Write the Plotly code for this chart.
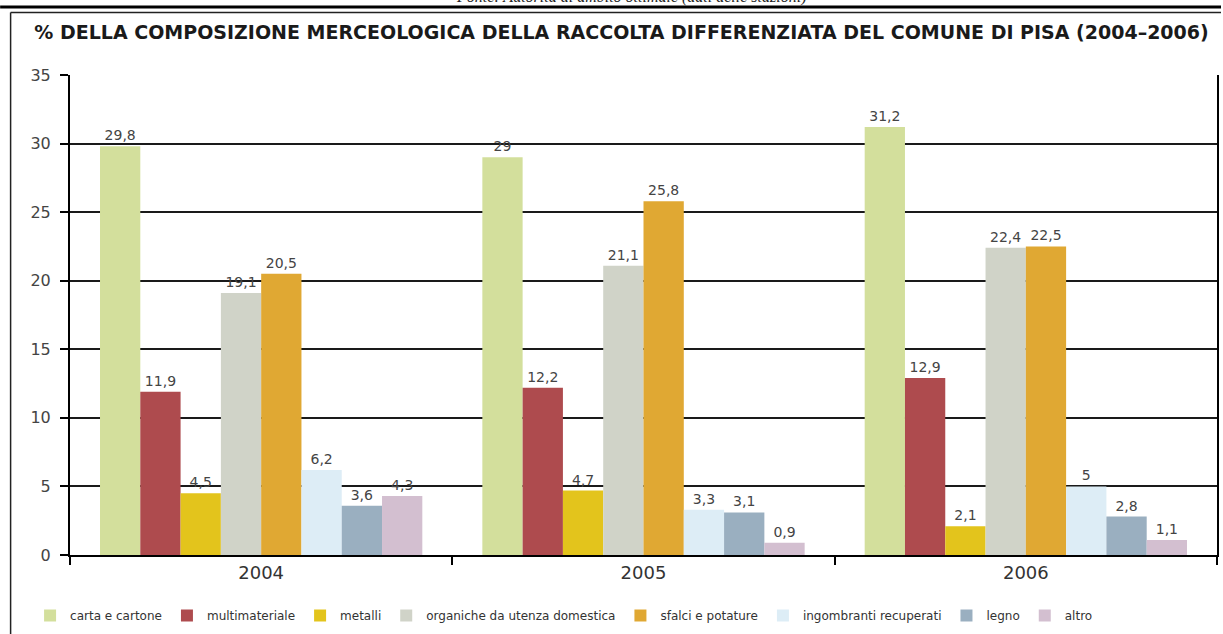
import plotly.graph_objects as go

# Years (categories on the x axis)
anni = ["2004", "2005", "2006"]

# Percentage share of each waste fraction, per year
voci = [
    "carta e cartone",
    "multimateriale",
    "metalli",
    "organiche da utenza domestica",
    "sfalci e potature",
    "ingombranti recuperati",
    "legno",
    "altro",
]
carta_cartone = [29.8, 29, 31.2]
multimateriale = [11.9, 12.2, 12.9]
metalli = [4.5, 4.7, 2.1]
organiche = [19.1, 21.1, 22.4]
sfalci = [20.5, 25.8, 22.5]
ingombranti = [6.2, 3.3, 5]
legno = [3.6, 3.1, 2.8]
altro = [4.3, 0.9, 1.1]

valori = [carta_cartone, multimateriale, metalli, organiche,
          sfalci, ingombranti, legno, altro]

colori = ["#D3DF9C", "#AE4B4E", "#E3C41C", "#D0D3C8",
          "#E0A833", "#DDEDF6", "#9AAFC0", "#D3BFD0"]

y_ticks = [0, 5, 10, 15, 20, 25, 30, 35]


def etichetta(v):
    return f"{v:g}".replace(".", ",")


fig = go.Figure()
for nome, serie, col in zip(voci, valori, colori):
    fig.add_trace(go.Bar(
        name=nome,
        x=anni,
        y=serie,
        marker=dict(color=col, line=dict(width=0)),
        text=[etichetta(v) for v in serie],
        textposition="outside",
        textfont=dict(family="DejaVu Sans", size=14, color="#444444"),
        cliponaxis=False,
    ))

# Plot area in pixels: x 70..1219, y 75..555 (page 1223x634)
L, R, T, B = 70, 4, 75, 79
W = 1223 - L - R
H = 634 - T - B


def px_x(p):
    return (p - L) / W


def px_y(p):
    return (634 - B - p) / H


shapes = [
    # heavy rule across the top of the page
    dict(type="line", xref="paper", yref="paper",
         x0=px_x(0), x1=px_x(1223), y0=px_y(7), y1=px_y(7),
         line=dict(color="#000000", width=3)),
    # box around the chart: top and left edges
    dict(type="line", xref="paper", yref="paper",
         x0=px_x(10.5), x1=px_x(1223), y0=px_y(12.5), y1=px_y(12.5),
         line=dict(color="#222222", width=1.5)),
    dict(type="line", xref="paper", yref="paper",
         x0=px_x(10.5), x1=px_x(10.5), y0=px_y(12.5), y1=px_y(640),
         line=dict(color="#222222", width=1.5)),
]

annotations = [
    dict(text="<i>Fonte: Autorità di ambito ottimale (dati delle stazioni)</i>",
         xref="paper", yref="paper", x=px_x(632), y=px_y(-3),
         xanchor="center", yanchor="middle", showarrow=False,
         font=dict(family="Liberation Serif", size=16, color="#222222")),
]

fig.update_layout(
    width=1223,
    height=634,
    margin=dict(l=L, r=R, t=T, b=B, pad=0),
    paper_bgcolor="white",
    plot_bgcolor="white",
    separators=",.",
    barmode="group",
    bargap=0.157,
    bargroupgap=0,
    title=dict(
        text="<b>% DELLA COMPOSIZIONE MERCEOLOGICA DELLA RACCOLTA DIFFERENZIATA DEL COMUNE DI PISA (2004–2006)</b>",
        x=(28 + 1215) / 2 / 1223, xref="container", xanchor="center",
        y=1 - 32 / 634, yref="container", yanchor="middle",
        font=dict(family="DejaVu Sans", size=19, color="#1a1a1a"),
    ),
    showlegend=True,
    legend=dict(
        orientation="h",
        x=px_x(30), xanchor="left",
        y=px_y(601), yanchor="top",
        font=dict(family="DejaVu Sans", size=12, color="#333333"),
        bgcolor="rgba(0,0,0,0)",
        traceorder="normal",
    ),
    shapes=shapes,
    annotations=annotations,
)

fig.update_yaxes(
    range=[0, 35],
    tickvals=y_ticks,
    ticktext=[str(t) for t in y_ticks],
    showgrid=True,
    gridcolor="#1a1a1a",
    gridwidth=1.5,
    zeroline=False,
    showline=True,
    linecolor="#000000",
    linewidth=2,
    mirror=True,
    ticks="outside",
    ticklen=8,
    tickwidth=2,
    tickcolor="#000000",
    ticklabelstandoff=6,
    tickfont=dict(family="DejaVu Sans", size=16, color="#444444"),
)

fig.update_xaxes(
    showline=True,
    linecolor="#000000",
    linewidth=2,
    showgrid=False,
    ticks="outside",
    tickson="boundaries",
    ticklen=8,
    tickwidth=2,
    tickcolor="#000000",
    tickfont=dict(family="DejaVu Sans", size=18, color="#333333"),
)

fig.write_html("out.html")
